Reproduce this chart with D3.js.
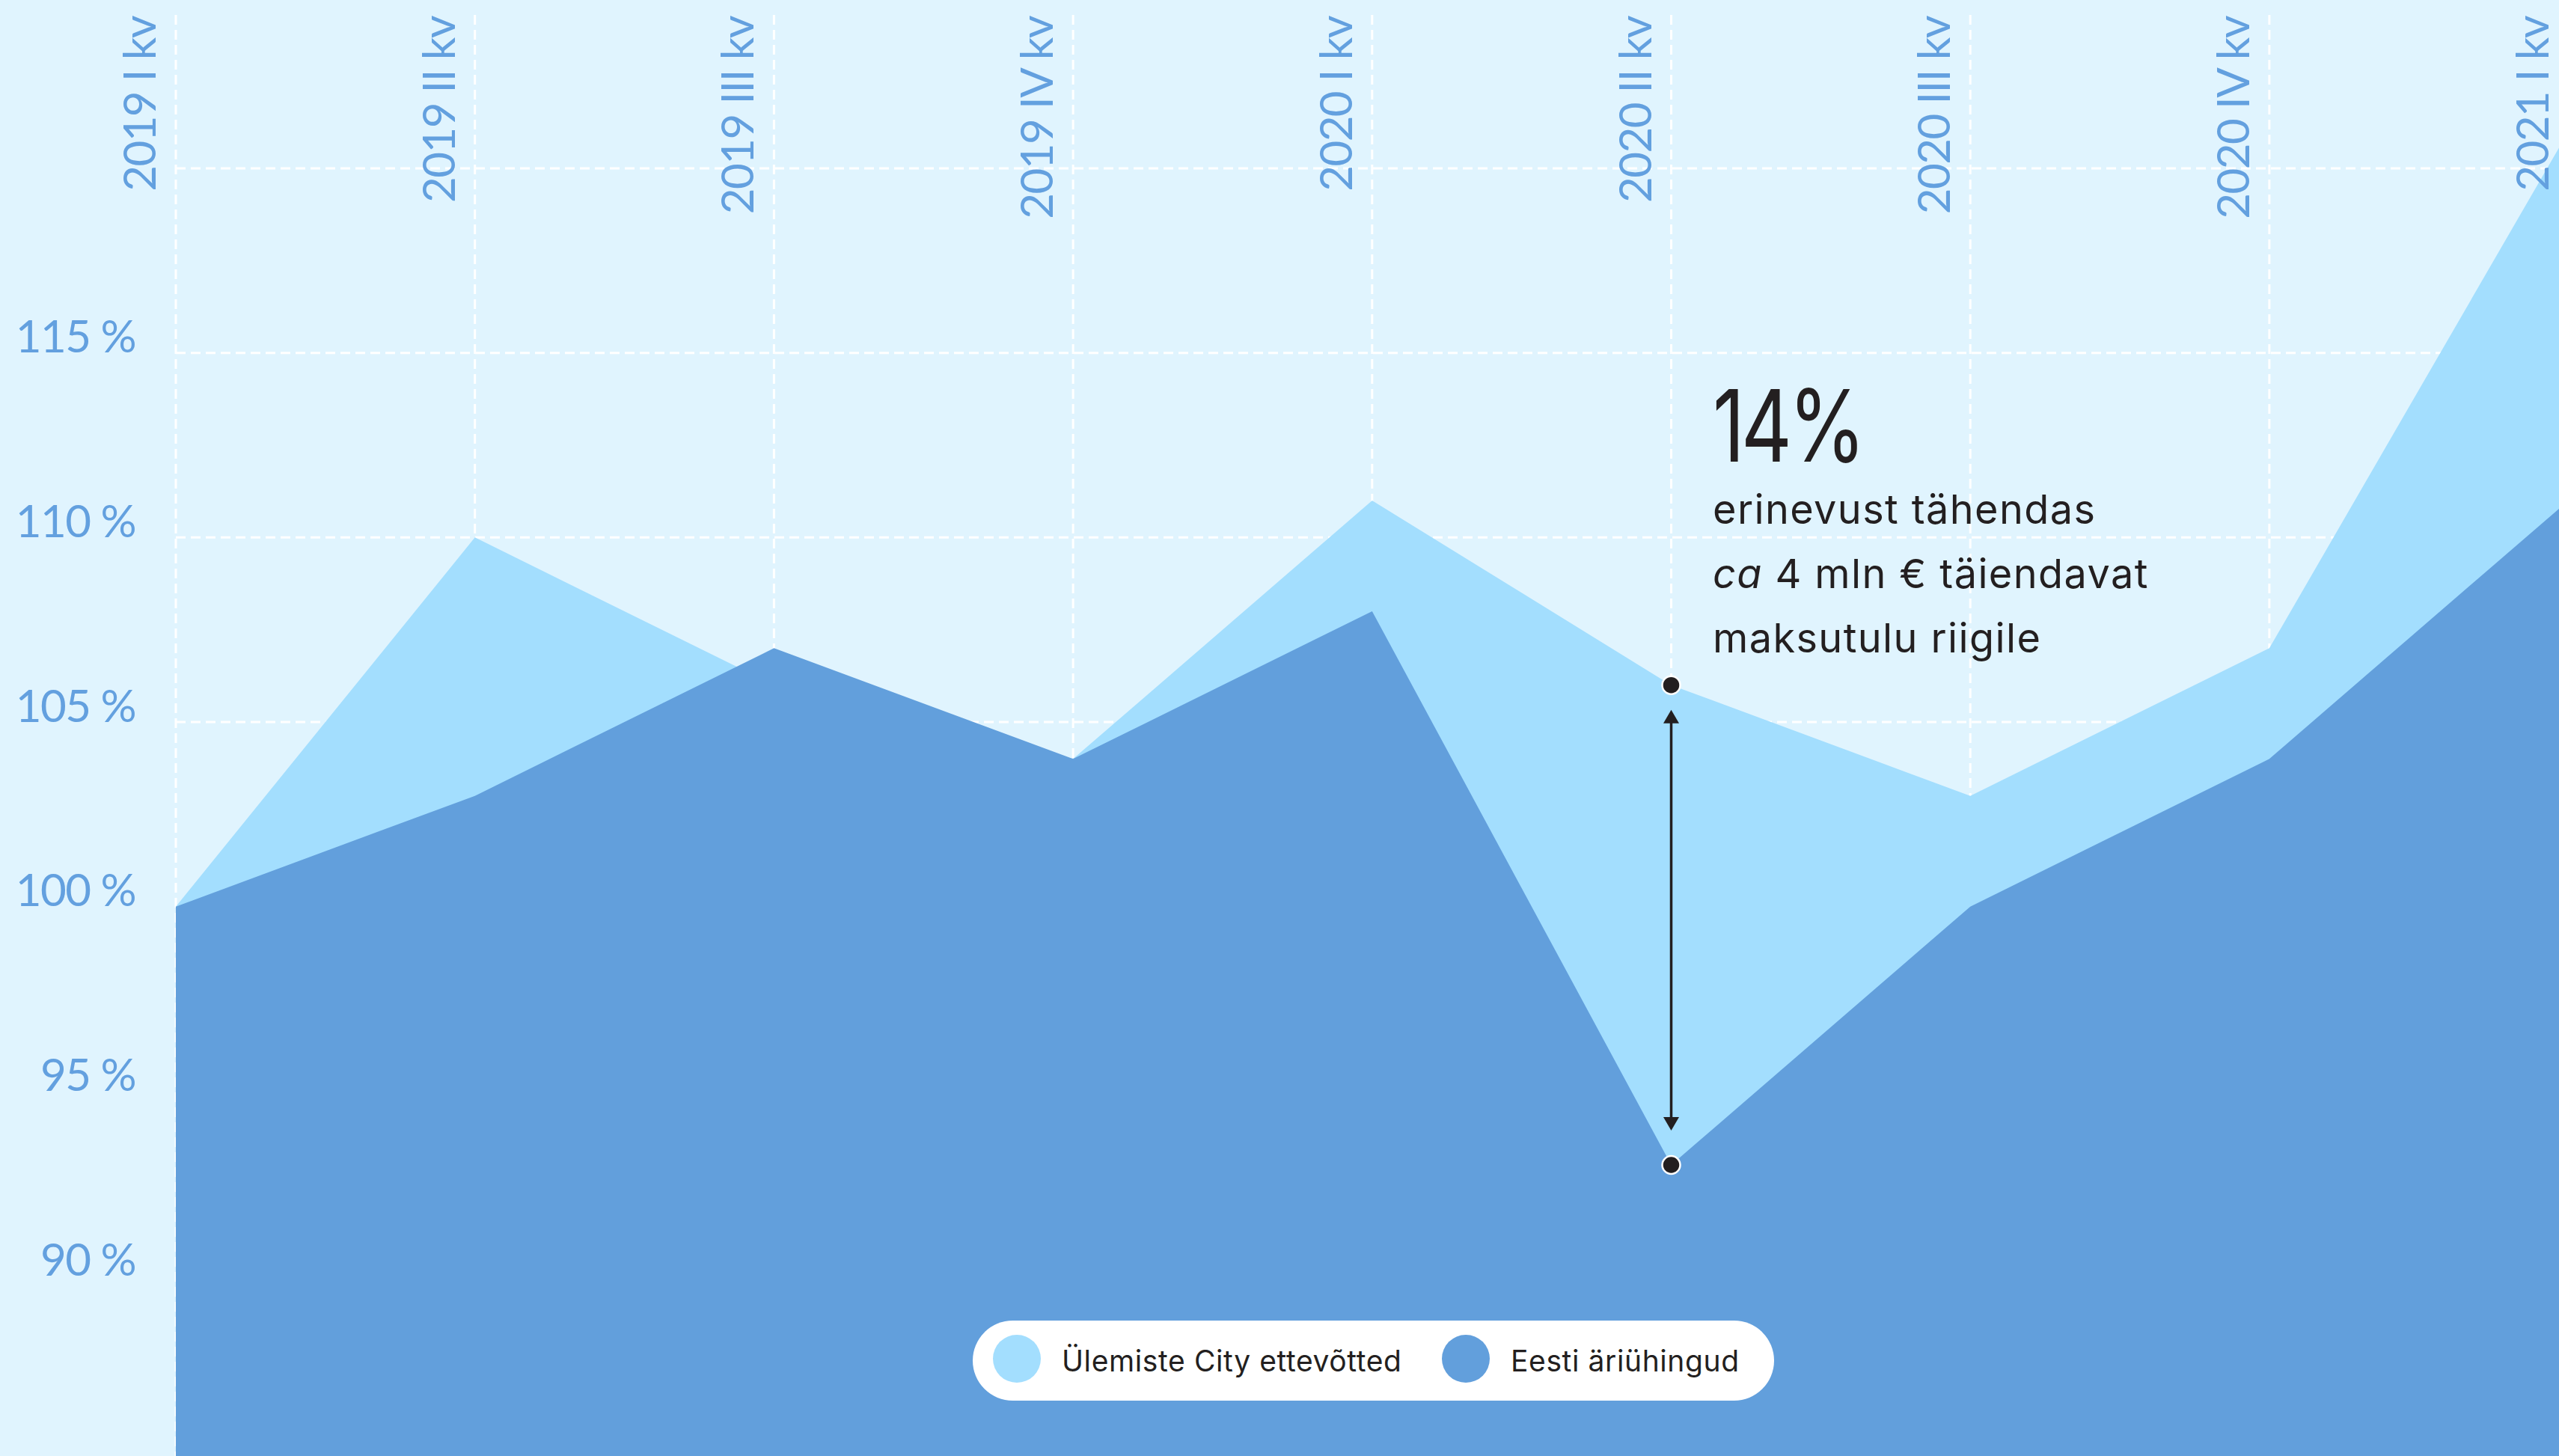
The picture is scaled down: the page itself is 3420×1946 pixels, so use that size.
<!DOCTYPE html>
<html>
<head>
<meta charset="utf-8">
<script src="https://cdn.jsdelivr.net/npm/d3@7"></script>
<style>
  html, body { margin: 0; padding: 0; background: #e0f4fe; overflow: hidden; }
  svg { display: block; }
</style>
</head>
<body>
<svg id="chart"></svg>
<script>
// data
const quarters = ["2019 I kv", "2019 II kv", "2019 III kv", "2019 IV kv", "2020 I kv",
                  "2020 II kv", "2020 III kv", "2020 IV kv", "2021 I kv"];
const ulemisteCity = [100, 110, 106, 104, 111, 106, 103, 107, 121];
const eestiAriuhingud = [100, 103, 107, 104, 108, 93, 100, 104, 111];
const yTicks = [90, 95, 100, 105, 110, 115];
const gridTicks = [90, 95, 100, 105, 110, 115, 120];
const seriesNames = ["Ülemiste City ettevõtted", "Eesti äriühingud"];
const annotationBig = "14%";
const annotationLines = ["erinevust tähendas", "ca 4 mln € täiendavat", "maksutulu riigile"];

// init setting
const W = 3420, H = 1946;
const svg = d3.select("#chart").attr("width", W).attr("height", H);
const colors = { bg: "#e0f4fe", light: "#a3defe", dark: "#629fdc", label: "#63a0df", ink: "#231f20" };

svg.append("rect").attr("width", W).attr("height", H).attr("fill", colors.bg);

const x = d3.scalePoint().domain(quarters).range([235, 235 + 8 * 399.7]);
const y = d3.scaleLinear().domain([90, 120]).range([1705, 225]);

// grid
const grid = svg.append("g")
    .attr("stroke", "#ffffff")
    .attr("stroke-width", 3)
    .attr("stroke-dasharray", "13,7");
grid.selectAll(".hgrid")
    .data(gridTicks)
    .enter().append("line")
    .attr("class", "hgrid")
    .attr("x1", x(quarters[0])).attr("x2", W)
    .attr("y1", d => y(d)).attr("y2", d => y(d));
grid.selectAll(".vgrid")
    .data(quarters)
    .enter().append("line")
    .attr("class", "vgrid")
    .attr("x1", d => x(d)).attr("x2", d => x(d))
    .attr("y1", 20).attr("y2", H);

// areas
const area = d3.area()
    .x((d, i) => x(quarters[i]))
    .y0(H)
    .y1(d => y(d));

svg.append("path").datum(ulemisteCity).attr("d", area).attr("fill", colors.light);
svg.append("path").datum(eestiAriuhingud).attr("d", area).attr("fill", colors.dark);

// y axis
const yAxis = svg.append("g")
    .attr("transform", "translate(181,0)")
    .call(d3.axisLeft(y).tickValues(yTicks).tickFormat(d => d + " %").tickSize(0).tickPadding(0));
yAxis.select(".domain").remove();
yAxis.selectAll("text")
    .attr("dy", "-1")
    .attr("fill", colors.label)
    .style("font-family", "Lato, 'Open Sans', sans-serif")
    .style("font-size", "60px")
    .style("letter-spacing", "-1.5px");

// x labels (rotated)
svg.selectAll(".xlabel")
    .data(quarters)
    .enter().append("text")
    .attr("class", "xlabel")
    .attr("transform", d => `translate(${x(d) - 27}, 22) rotate(-90)`)
    .attr("text-anchor", "end")
    .attr("fill", colors.label)
    .style("font-family", "Lato, 'Open Sans', sans-serif")
    .style("font-size", "60px")
    .style("letter-spacing", "-1.6px")
    .text(d => d);

// annotation
const ax = x(quarters[5]);
const yTop = y(ulemisteCity[5]), yBot = y(eestiAriuhingud[5]);
svg.append("line")
    .attr("x1", ax).attr("x2", ax)
    .attr("y1", yTop + 40).attr("y2", yBot - 50)
    .attr("stroke", colors.ink).attr("stroke-width", 3.5);
svg.append("path")
    .attr("d", `M${ax},${yTop + 33} l-10.5,18 h21 Z`)
    .attr("fill", colors.ink);
svg.append("path")
    .attr("d", `M${ax},${yBot - 46} l-10.5,-18 h21 Z`)
    .attr("fill", colors.ink);
svg.selectAll(".dot")
    .data([yTop, yBot])
    .enter().append("circle")
    .attr("class", "dot")
    .attr("cx", ax).attr("cy", d => d)
    .attr("r", 12)
    .attr("fill", colors.ink)
    .attr("stroke", "#ffffff").attr("stroke-width", 2.5);

const tx = 2289;
svg.append("text")
    .attr("x", tx).attr("y", 617)
    .attr("fill", colors.ink)
    .attr("textLength", 200)
    .attr("lengthAdjust", "spacingAndGlyphs")
    .style("font-family", "Inter, sans-serif")
    .style("font-size", "134px")
    .style("letter-spacing", "-6px")
    .text(annotationBig);

const lineY = [700, 786, 872];
annotationLines.forEach((t, i) => {
    const txt = svg.append("text")
        .attr("x", tx).attr("y", lineY[i])
        .attr("fill", colors.ink)
        .style("font-family", "Inter, sans-serif")
        .style("font-size", "54px")
        .style("letter-spacing", "1.4px");
    if (t.startsWith("ca ")) {
        txt.append("tspan").style("font-style", "italic").text("ca");
        txt.append("tspan").text(t.slice(2));
    } else {
        txt.text(t);
    }
});

// legend
const legend = svg.append("g");
legend.append("rect")
    .attr("x", 1300).attr("y", 1765)
    .attr("width", 1071).attr("height", 107)
    .attr("rx", 53.5).attr("ry", 53.5)
    .attr("fill", "#ffffff");
const legendX = [1359, 1959];
const legendColors = [colors.light, colors.dark];
seriesNames.forEach((name, i) => {
    legend.append("circle")
        .attr("cx", legendX[i]).attr("cy", 1816)
        .attr("r", 32)
        .attr("fill", legendColors[i]);
    legend.append("text")
        .attr("x", legendX[i] + 60).attr("y", 1833)
        .attr("fill", colors.ink)
        .style("font-family", "Inter, sans-serif")
        .style("font-size", "39px")
        .style("letter-spacing", "0.6px")
        .text(name);
});
</script>
</body>
</html>
